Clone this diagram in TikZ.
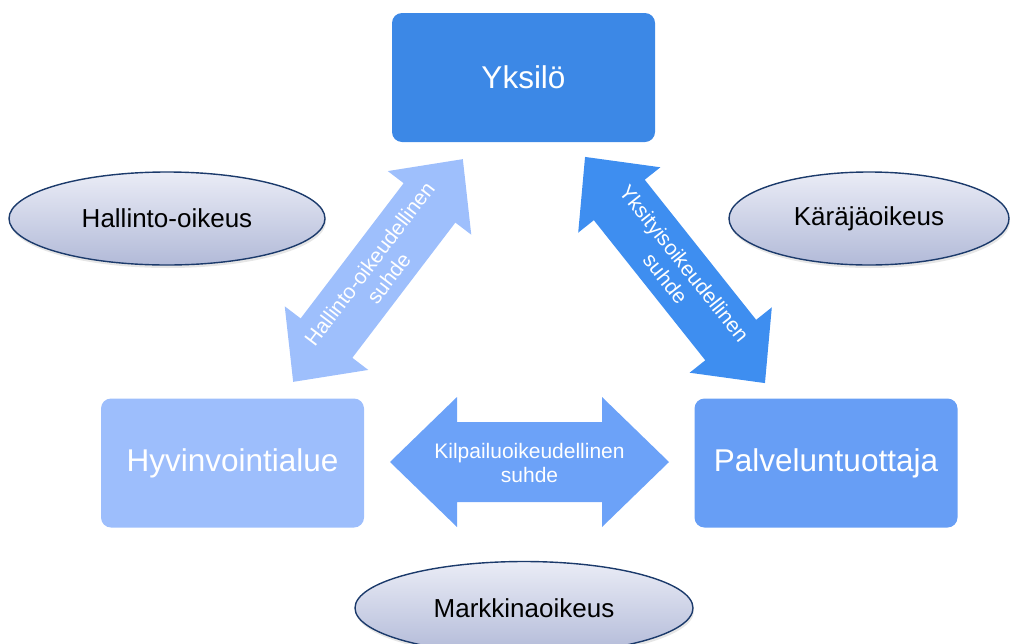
\documentclass[tikz,border=0pt]{standalone}
\usepackage{fontspec}
\setmainfont{Liberation Sans}
\usetikzlibrary{shapes.geometric,shadows}
\definecolor{cYks}{RGB}{60,136,230}
\definecolor{cHyv}{RGB}{157,190,252}
\definecolor{cPal}{RGB}{103,158,245}
\definecolor{cArrL}{RGB}{158,191,252}
\definecolor{cArrR}{RGB}{62,142,240}
\definecolor{cArrH}{RGB}{108,162,248}
\definecolor{cEllTop}{RGB}{234,236,246}
\definecolor{cEllBot}{RGB}{178,186,216}
\definecolor{cEllLine}{RGB}{27,58,107}
\newcommand{\dblarrpath}[4]{%
  (-#1,0) -- (-#1+#2,-#3) -- (-#1+#2,-#4) -- (#1-#2,-#4) -- (#1-#2,-#3) --
  (#1,0) -- (#1-#2,#3) -- (#1-#2,#4) -- (-#1+#2,#4) -- (-#1+#2,#3) -- cycle}
\tikzset{
  box/.style={rectangle, rounded corners=10pt, minimum width=263pt,
    minimum height=129pt, inner sep=0pt, text=white,
    font=\fontsize{31.5}{37}\selectfont},
  court/.style={ellipse, draw=cEllLine, line width=1.4pt,
    top color=cEllTop, bottom color=cEllBot, inner sep=0pt,
    minimum height=93pt, font=\fontsize{26}{30}\selectfont, text=black,
    drop shadow={opacity=0.2, shadow xshift=1pt, shadow yshift=-3pt}},
  arrtext/.style={text=white, align=center, inner sep=0pt,
    font=\fontsize{21}{24}\selectfont}
}
\begin{document}
\begin{tikzpicture}[x=1pt,y=-1pt]
\useasboundingbox (0,0) rectangle (1011,643);
\clip (0,0) rectangle (1011,643);
% boxes
\node[box, fill=cYks] (yks) at (523.5,77.5) {Yksilö};
\node[box, fill=cHyv] (hyv) at (232.5,463) {Hyvinvointialue};
\node[box, fill=cPal] (pal) at (826,463) {Palveluntuottaja};
% block arrows
\begin{scope}[shift={(378,270.5)}, rotate=52.7]
  \fill[cArrL] \dblarrpath{140}{55}{52.5}{32.5};
\end{scope}
\begin{scope}[shift={(675,270)}, rotate=-51.5]
  \fill[cArrR] \dblarrpath{144.5}{55}{52.5}{32.5};
\end{scope}
\begin{scope}[shift={(529.5,462)}]
  \fill[cArrH] \dblarrpath{139.5}{67}{65}{40};
\end{scope}
\node[arrtext, rotate=52.7] (hallsuhde) at (379,271) {Hallinto-oikeudellinen\\suhde};
\node[arrtext, rotate=-51.5] (yksisuhde) at (675,271) {Yksityisoikeudellinen\\suhde};
\node[arrtext] (kilpsuhde) at (529.5,463) {Kilpailuoikeudellinen\\suhde};
% courts
\node[court, minimum width=316pt] (hao) at (167,218.5) {Hallinto-oikeus};
\node[court, minimum width=280pt] (ko) at (869,218.5) {Käräjäoikeus};
\node[court, minimum width=338pt] (mao) at (524,608) {Markkinaoikeus};
\end{tikzpicture}
\end{document}
